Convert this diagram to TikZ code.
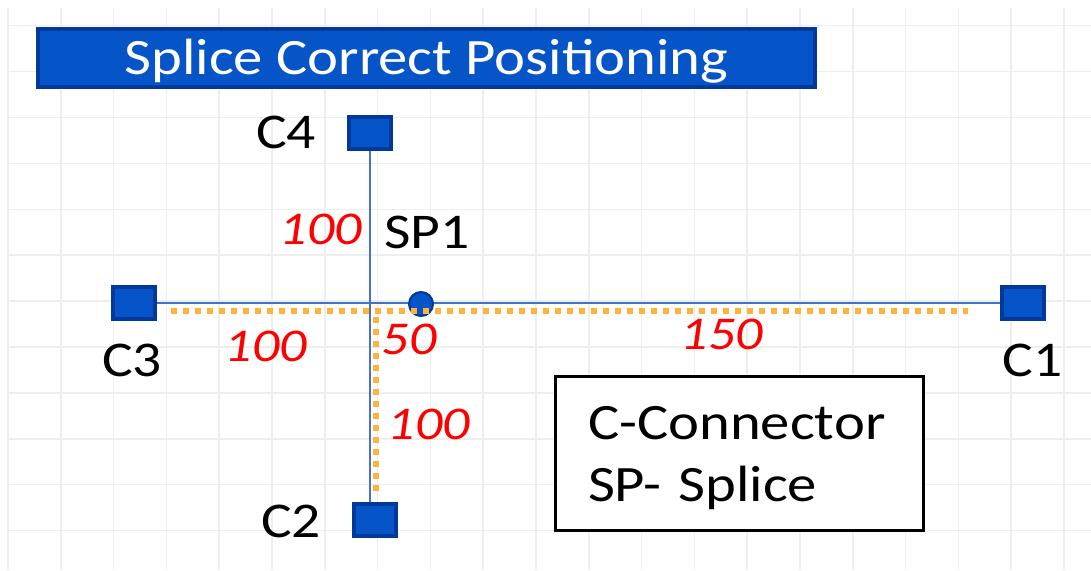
\documentclass[tikz,border=0pt]{standalone}
\usepackage{fontspec}
\setmainfont{Carlito}[FakeStretch=1.15]
\usepackage{tikz}
\usetikzlibrary{positioning}
\definecolor{cblue}{RGB}{5,84,200}
\definecolor{cdark}{RGB}{0,57,153}
\definecolor{cline}{RGB}{68,114,196}
\definecolor{corange}{RGB}{255,178,62}
\definecolor{gridgray}{RGB}{238,238,238}
\tikzstyle{banner} = [rectangle, 
minimum width=777pt, 
minimum height=58pt, 
line width=4pt, 
draw=cdark, 
fill=cblue, 
text=white, 
text height=33pt, 
text depth=0pt, 
font=\fontsize{51}{60}\selectfont]
\tikzstyle{connector} = [rectangle, 
minimum width=42pt, 
minimum height=32pt, 
inner sep=0pt, 
line width=4pt, 
draw=cdark, 
fill=cblue]
\tikzstyle{splice} = [circle, 
minimum size=24pt, 
inner sep=0pt, 
line width=2pt, 
draw=cdark, 
fill=cblue]
\tikzstyle{tag} = [inner sep=0pt, font=\fontsize{50}{60}\selectfont]
\tikzstyle{dim} = [inner sep=0pt, text=red, font=\fontsize{47}{55}\selectfont\itshape]
\tikzstyle{legendbox} = [rectangle, 
minimum height=154pt, 
text width=303pt, 
inner xsep=32.5pt, 
text depth=62pt, 
align=left, 
line width=3pt, 
draw=black, 
fill=white, 
font=\fontsize{51}{62}\selectfont]
\tikzstyle{wire} = [line width=2pt, draw=cline]
\tikzstyle{measure} = [line width=5.5pt, draw=corange, dash pattern=on 6pt off 6pt]

\begin{document}
\begin{tikzpicture}[x=1pt, y=-1pt]
    \useasboundingbox (0,0) rectangle (1091,570);
    % grid
    \foreach \k in {0,...,20}
        \draw [gridgray, line width=1.5pt] (8+52.8*\k,8) -- (8+52.8*\k,570);
    \foreach \k in {0,...,11}
        \draw [gridgray, line width=1.5pt] (8,25.7+45.9*\k) -- (1091,25.7+45.9*\k);

    \node (title) [banner] at (426.5,58) {Splice Correct Positioning};

    \node (c4) [connector] at (370,132.5) {};
    \node (c3) [connector] at (134,303) {};
    \node (c1) [connector] at (1022.5,303) {};
    \node (c2) [connector] at (375,519.5) {};

    \draw [wire] (c3.east) -- (c1.west);
    \draw [wire] (c4.south) -- (c4.south |- c2.north);

    \node (sp1) [splice] at (421,304) {};

    \coordinate (hstart) at (171,311);
    \coordinate (hend) at (968,311);
    \coordinate (vend) at (376,492);
    \draw [measure] (hstart) -- (hend);
    \draw [measure] (vend |- hstart) ++(0,6) -- (vend);

    \node (c4lbl) [tag, left of=c4, node distance=84pt] {C4};
    \node (c2lbl) [tag, left of=c2, node distance=84pt, yshift=-1.5pt] {C2};
    \node (c3lbl) [tag, below of=c3, node distance=57pt, xshift=-2pt] {C3};
    \node (c1lbl) [tag, below of=c1, node distance=57pt, xshift=10pt] {C1};
    \node (sp1lbl) [tag, above of=sp1, node distance=72pt, xshift=6pt] {SP1};

    \node (dimup) [dim] at (321,229) {100};
    \node (dimleft) [dim] at (266,346) {100};
    \node (dimsp) [dim] at (409,339) {50};
    \node (dimright) [dim] at (722,334) {150};
    \node (dimdown) [dim] at (429,424) {100};

    \node (legend) [legendbox] at (739.5,453.5) {C-Connector\\SP- Splice};
\end{tikzpicture}
\end{document}
